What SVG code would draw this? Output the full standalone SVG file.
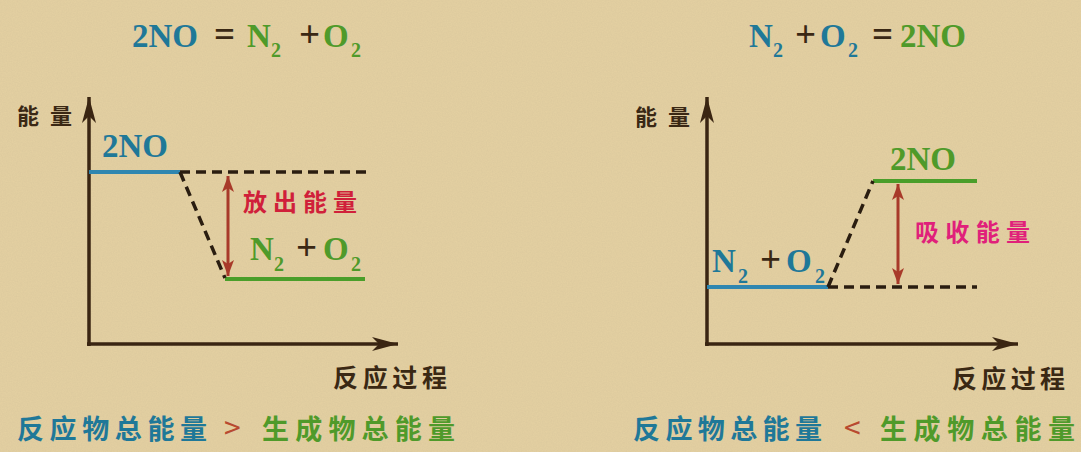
<svg xmlns="http://www.w3.org/2000/svg" width="1081" height="452" viewBox="0 0 1081 452">
<defs>
<style>
.chem{font-family:"Liberation Serif","Times New Roman",serif;font-weight:bold;font-size:33px}
.sub{font-size:20px}
.op{font-size:37px}
.cjk{font-family:"Noto Sans CJK SC","Noto Sans",sans-serif;font-weight:bold}
.blue{fill:#1f7898}
.green{fill:#4f9a2a}
.dark{fill:#3a2814}
.axis{stroke:#3a2512;stroke-width:3.5;fill:none}
.dash{stroke:#2a1d10;stroke-width:3.5;stroke-dasharray:10 6;fill:none}
.lvlb{stroke:#2f86b0;stroke-width:4}
.lvlg{stroke:#4a9e2a;stroke-width:4}
.red{stroke:#a83a2a;stroke-width:3;fill:none}
</style>
<marker id="axhead" markerUnits="userSpaceOnUse" markerWidth="30" markerHeight="20" refX="26" refY="8" orient="auto">
<path d="M26,8 L0,1 L7,8 L0,15 Z" fill="#3a2512"/>
</marker>
<marker id="rhead" markerUnits="userSpaceOnUse" markerWidth="20" markerHeight="14" refX="16" refY="6" orient="auto-start-reverse">
<path d="M16,6 L0,0 L4,6 L0,12 Z" fill="#a83a2a"/>
</marker>
<filter id="paper" x="0" y="0" width="100%" height="100%">
<feTurbulence type="fractalNoise" baseFrequency="0.8" numOctaves="2" seed="3"/>
<feColorMatrix values="0 0 0 0 0.45  0 0 0 0 0.38  0 0 0 0 0.25  0 0 0 0.18 0"/>
</filter>
</defs>
<rect width="1081" height="452" fill="#e5d1a2"/>
<rect width="1081" height="452" filter="url(#paper)"/>

<g id="left-chart">
<g id="left-title" class="chem">
<text y="47"><tspan x="132" class="blue">2NO</tspan><tspan x="214" class="dark op">=</tspan><tspan x="247" class="green">N</tspan><tspan x="271" dy="10" class="green sub">2</tspan><tspan x="299" dy="-10" class="dark op">+</tspan><tspan x="323" class="green">O</tspan><tspan x="351" dy="10" class="green sub">2</tspan></text>
</g>
<g id="left-axes">
<line class="axis" x1="89" y1="346" x2="89" y2="97" marker-end="url(#axhead)"/>
<line class="axis" x1="87" y1="344" x2="398" y2="344" marker-end="url(#axhead)"/>
<text class="cjk dark" x="17" y="124" font-size="22" textLength="55" lengthAdjust="spacing">能量</text>
<text class="cjk dark" x="333" y="387" font-size="25" textLength="114" lengthAdjust="spacing">反应过程</text>
</g>
<g id="left-reactant">
<line class="lvlb" x1="89" y1="172" x2="180" y2="172"/>
<text class="chem blue" x="102" y="157" font-size="34">2NO</text>
</g>
<g id="left-product">
<line class="lvlg" x1="225" y1="279" x2="365" y2="279"/>
<text class="chem" y="260"><tspan x="250" class="green">N</tspan><tspan x="274" dy="11" class="green sub">2</tspan><tspan x="296" dy="-11" class="dark op">+</tspan><tspan x="323" class="green">O</tspan><tspan x="351" dy="11" class="green sub">2</tspan></text>
</g>
<g id="left-release">
<text class="cjk" x="243" y="211" font-size="24" fill="#d0203a" textLength="114" lengthAdjust="spacing">放出能量</text>
</g>
<text class="cjk" y="439" font-size="27"><tspan x="17" fill="#1f7898" textLength="190" lengthAdjust="spacing">反应物总能量</tspan><tspan x="224" fill="#b84a30" font-size="30" font-weight="normal">&gt;</tspan><tspan x="262" fill="#4f9a2a" textLength="193" lengthAdjust="spacing">生成物总能量</tspan></text>
</g>

<g id="right-chart">
<g id="right-title" class="chem">
<text y="47"><tspan x="749" class="blue">N</tspan><tspan x="773" dy="10" class="blue sub">2</tspan><tspan x="795" dy="-10" class="dark op">+</tspan><tspan x="820" class="blue">O</tspan><tspan x="848" dy="10" class="blue sub">2</tspan><tspan x="872" dy="-10" class="dark op">=</tspan><tspan x="900" class="green">2NO</tspan></text>
</g>
<g id="right-axes">
<line class="axis" x1="707" y1="346" x2="707" y2="97" marker-end="url(#axhead)"/>
<line class="axis" x1="705" y1="344" x2="1018" y2="344" marker-end="url(#axhead)"/>
<text class="cjk dark" x="635" y="125" font-size="22" textLength="55" lengthAdjust="spacing">能量</text>
<text class="cjk dark" x="952" y="388" font-size="25" textLength="113" lengthAdjust="spacing">反应过程</text>
</g>
<g id="right-reactant">
<line class="lvlb" x1="707" y1="287" x2="828" y2="287"/>
<text class="chem" y="272"><tspan x="712" class="blue">N</tspan><tspan x="738" dy="11" class="blue sub">2</tspan><tspan x="760" dy="-11" class="dark op">+</tspan><tspan x="786" class="blue">O</tspan><tspan x="815" dy="11" class="blue sub">2</tspan></text>
</g>
<g id="right-product">
<line class="lvlg" x1="873" y1="181" x2="977" y2="181"/>
<text class="chem green" x="890" y="170">2NO</text>
</g>
<g id="right-absorb">
<text class="cjk" x="915" y="241" font-size="24" fill="#e0207a" textLength="115" lengthAdjust="spacing">吸收能量</text>
</g>
<text class="cjk" y="439" font-size="27"><tspan x="633" fill="#1f7898" textLength="189" lengthAdjust="spacing">反应物总能量</tspan><tspan x="844" fill="#b84a30" font-size="30" font-weight="normal">&lt;</tspan><tspan x="880" fill="#4f9a2a" textLength="195" lengthAdjust="spacing">生成物总能量</tspan></text>
</g>

<g id="connectors">
<path class="dash" d="M180,172 L367,172"/>
<path class="dash" d="M180,172 L225,278"/>
<line class="red" x1="228" y1="176" x2="228" y2="276" marker-start="url(#rhead)" marker-end="url(#rhead)"/>
<path class="dash" d="M828,287 L977,287"/>
<path class="dash" d="M828,287 L873,181"/>
<line class="red" x1="898" y1="184" x2="898" y2="284" marker-start="url(#rhead)" marker-end="url(#rhead)"/>
</g>
</svg>
